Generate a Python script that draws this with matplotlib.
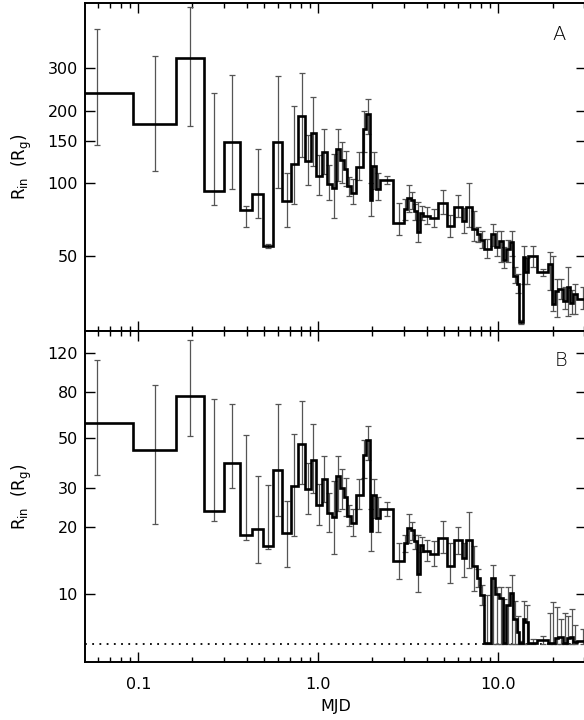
import numpy as np
import matplotlib
matplotlib.use("Agg")
import matplotlib.pyplot as plt
from matplotlib.ticker import FixedLocator, FixedFormatter, NullLocator, LogLocator, NullFormatter

plt.rcParams['font.family'] = ['DejaVu Sans']
plt.rcParams['mathtext.default'] = 'regular'

# time-bin edges (days)
edges = [0.037, 0.0938, 0.1626, 0.2308, 0.2981, 0.3673, 0.4299, 0.4960, 0.5638, 0.6326,
         0.7025, 0.7743, 0.8435, 0.9074, 0.9710, 1.0445, 1.122, 1.187, 1.254, 1.320,
         1.389, 1.449, 1.514, 1.614, 1.778, 1.834, 1.937, 1.988, 2.084, 2.202,
         2.610, 2.993, 3.098, 3.261, 3.402, 3.521, 3.673, 3.831, 4.175, 4.642,
         5.168, 5.675, 6.262, 6.617, 7.118, 7.586, 7.913, 8.330, 9.074, 9.587,
         10.13, 10.58, 11.04, 11.61, 12.11, 12.65, 13.08, 13.66, 14.07, 14.68,
         16.35, 18.96, 19.81, 20.65, 21.54, 22.97, 23.99, 25.02, 26.10, 27.26, 32.3]

# Panel A: R_in values and error ranges
rA = [236, 175.7, 332, 92.6, 148, 77.2, 90.3, 55.0, 148, 84.1,
      120, 190, 124, 162, 107, 134.6, 99.4, 95.3, 138, 124.3,
      114.8, 96.9, 90.9, 116.6, 168.5, 194.6, 85.3, 117.4, 94.7, 103.3,
      68.4, 78.2, 87.0, 85.3, 76.9, 62.5, 75.3, 73.3, 71.9, 82.5,
      66.2, 79.9, 69.9, 79.9, 64.5, 61.6, 58.1, 53.3, 61.6, 54.1,
      57.3, 47.9, 53.3, 56.8, 41.3, 38.1, 26.4, 49.2, 42.6, 50.0,
      42.6, 46.0, 31.4, 35.7, 36.3, 32.5, 37.1, 31.9, 34.6, 33.0]
rA_lo = [143.6, 112, 172, 81, 94.8, 65.6, 71.8, 54, 95.7, 65.6,
         81.5, 128, 98, 118, 89, 109, 84.7, 71.5, 101.6, 100,
         96.9, 88, 81.5, 102.6, 135, 160, 73.3, 94.7, 85, 99,
         60.6, 70, 75.7, 78, 70, 56.8, 70, 67.7, 66, 74.5,
         60, 72, 61.9, 65.6, 57.3, 57, 54, 48.9, 55, 50,
         47, 44.6, 47, 50, 38.5, 35, 26, 38.1, 38.1, 45,
         41, 36, 29.5, 27.8, 33, 30, 28.1, 28.5, 28.5, 30]
rA_hi = [436, 338, 538, 237, 280, 80, 138.6, 56, 279, 110,
         209, 286, 158, 228, 131, 167, 119, 132.6, 167, 148,
         136, 106, 104, 135, 200, 223, 100, 135, 110, 107,
         82.3, 86, 97.8, 92, 82, 83.4, 80, 79.4, 78.2, 93.8,
         74, 88.9, 79, 100, 76.5, 66, 63, 58.6, 67.7, 63.5,
         63.5, 54.1, 58, 63.1, 45, 42, 27, 55, 49, 55,
         44, 51.6, 50, 40, 40, 37, 44.9, 36, 38, 37]

# Panel B: R_in values and error ranges
rB = [58.7, 44.1, 77.3, 23.6, 38.8, 18.4, 19.7, 16.5, 36.0, 18.8,
      30.5, 47.3, 29.7, 39.9, 25.2, 32.9, 23.2, 22.1, 33.8, 30.0,
      27.3, 22.5, 20.9, 27.9, 41.9, 49.0, 19.2, 27.9, 22.0, 24.1,
      14.1, 17.0, 19.8, 19.4, 17.3, 12.3, 16.7, 15.6, 15.2, 17.9,
      13.4, 17.6, 14.6, 17.6, 13.35, 11.9, 9.9, 6.06, 11.85, 10.0,
      9.6, 6.06, 9.0, 10.1, 7.8, 6.8, 6.06, 7.8, 7.5, 6.06,
      6.26, 6.06, 6.06, 6.37, 6.45, 6.06, 6.37, 6.45, 6.1, 6.2]
rB_lo = [34.1, 20.7, 51.1, 21.3, 30, 17.5, 13.8, 16, 22.4, 13.2,
         18.3, 31.3, 22.8, 28.5, 20.5, 25.8, 19, 15.2, 23.7, 24,
         22.5, 20.2, 18.3, 24, 33, 40, 15.7, 22, 19, 22.5,
         11.7, 15.5, 17, 17.5, 16, 10.2, 15.5, 14.1, 13.4, 15.3,
         11.3, 15.2, 12, 13.1, 10.4, 10.8, 9, 6, 6, 6,
         6, 6, 6, 6, 6, 6, 6, 6, 6, 6,
         6, 6, 6, 6, 6, 6, 6, 6, 6, 6]
rB_hi = [111.7, 86.5, 137.7, 74.7, 71.4, 51.5, 33.8, 31, 71.4, 26.1,
         52.4, 73.1, 38.8, 57.7, 31.3, 41.6, 28.5, 32.1, 41.6, 36.5,
         33, 25.2, 24, 32.7, 49, 56.6, 24, 32.7, 27.3, 26,
         17, 18.5, 22.9, 21, 18.5, 18.5, 18, 17.6, 17.3, 21.3,
         16.9, 20, 17, 23.4, 16.4, 13, 11, 9.9, 13.6, 10.8,
         10.8, 9.5, 10.8, 12.25, 9.3, 8.0, 6.2, 9.3, 9.0, 6.3,
         6.5, 8.25, 9.2, 8.8, 7.8, 8.25, 8.0, 8.6, 7.3, 7.0]

isco = 6.0
xticks = [0.1, 1.0, 10.0]
xtick_labels = ['0.1', '1.0', '10.0']
yticksA = [50, 100, 150, 200, 300]
yticksB = [10, 20, 30, 50, 80, 120]

edges_a = np.array(edges)
centers = np.sqrt(edges_a[:-1] * edges_a[1:])

fig = plt.figure(figsize=(5.84, 7.2), dpi=100)
left, right = 85 / 584, 1.003
axA = fig.add_axes([left, 1 - 331 / 720, right - left, (331 - 3) / 720])
axB = fig.add_axes([left, 1 - 661.7 / 720, right - left, (661.7 - 331) / 720])

errc = '#555555'

def draw(ax, vals, lo, hi, ylim, yt):
    v = np.array(vals); l = np.array(lo); h = np.array(hi)
    ax.errorbar(centers, v, yerr=[v - l, h - v], fmt='none', ecolor=errc,
                elinewidth=0.9, capsize=2.3, capthick=0.9, zorder=2)
    ax.stairs(v, edges_a, color='black', linewidth=1.9, zorder=3, baseline=None)
    ax.set_xscale('log'); ax.set_yscale('log')
    ax.set_xlim(0.0506, 30.6)
    ax.set_ylim(*ylim)
    ax.yaxis.set_major_locator(FixedLocator(yt))
    ax.yaxis.set_major_formatter(FixedFormatter([str(t) for t in yt]))
    ax.yaxis.set_minor_locator(NullLocator())
    ax.xaxis.set_major_locator(FixedLocator(xticks))
    ax.xaxis.set_minor_locator(LogLocator(base=10, subs=np.arange(2, 10)))
    ax.xaxis.set_minor_formatter(NullFormatter())
    ax.tick_params(which='both', direction='in', top=True, right=True, labelsize=11.5, width=1.0)
    ax.tick_params(which='major', length=7)
    ax.tick_params(axis='y', which='major', pad=5)
    ax.tick_params(axis='x', which='major', pad=11)
    ax.tick_params(which='minor', length=3.5)
    for s in ax.spines.values():
        s.set_linewidth(1.4)
    ax.set_ylabel(r'R$_{in}$  (R$_{g}$)', fontsize=12, labelpad=10)

draw(axA, rA, rA_lo, rA_hi, (24.3, 560), yticksA)
draw(axB, rB, rB_lo, rB_hi, (5.0, 150.7), yticksB)

axA.xaxis.set_major_formatter(NullFormatter())
axB.xaxis.set_major_formatter(FixedFormatter(xtick_labels))
axB.set_xlabel('MJD', fontsize=11.5, labelpad=5)

axB.axhline(isco, color='black', linestyle=(0, (1, 3)), linewidth=1.3, zorder=1)

fig.text(559 / 584, 1 - 35 / 720, 'A', fontsize=14, ha='center', va='center', fontweight='light')
fig.text(561 / 584, 1 - 361 / 720, 'B', fontsize=14, ha='center', va='center', fontweight='light')

fig.savefig('out.png', dpi=100)
